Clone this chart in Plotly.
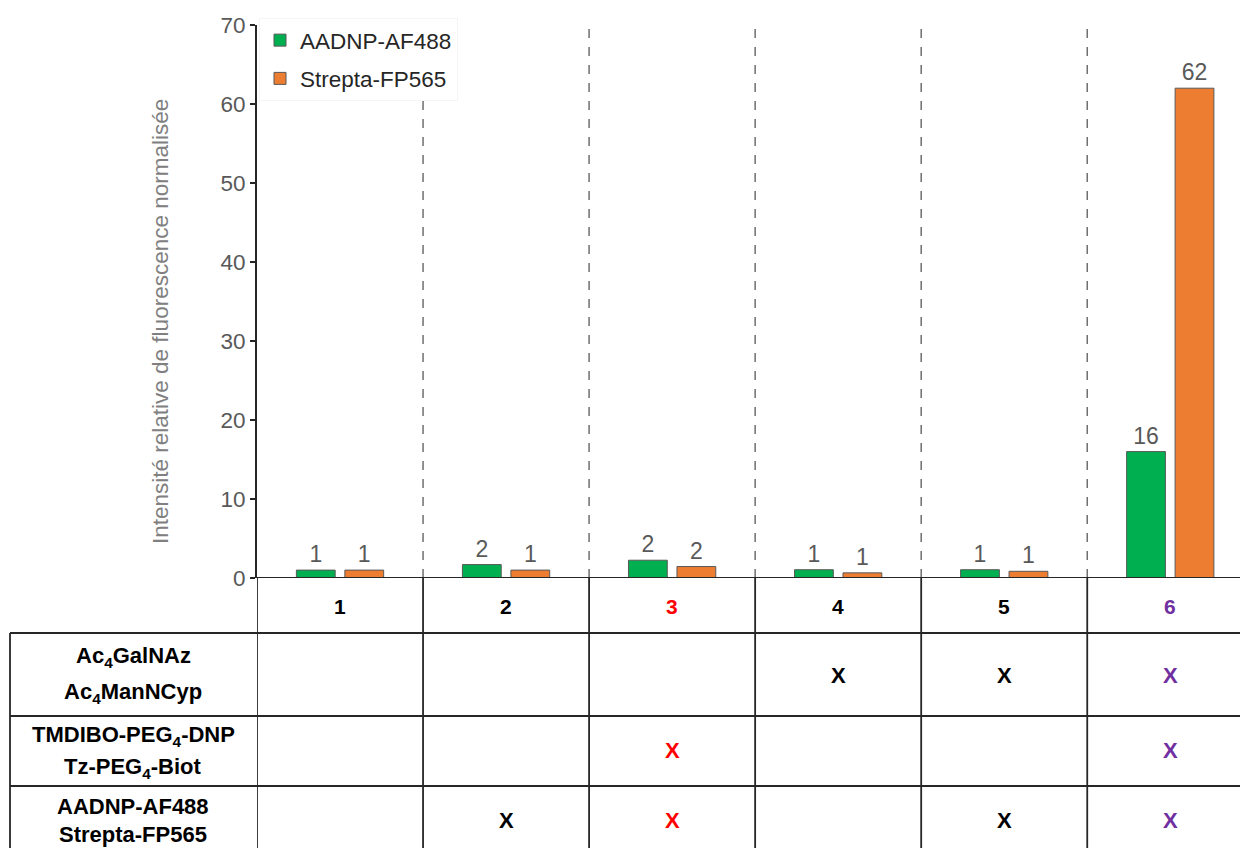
import plotly.graph_objects as go

# ---------------- data ----------------
categories = [1, 2, 3, 4, 5, 6]
cat_labels = ["1", "2", "3", "4", "5", "6"]
cat_colors = ["#000000", "#000000", "#FF0000", "#000000", "#000000", "#7030A0"]

series_names = ["AADNP-AF488", "Strepta-FP565"]
green_values = [1.0, 1.7, 2.25, 1.05, 1.05, 16.0]
orange_values = [1.0, 1.0, 1.45, 0.65, 0.85, 62.0]
green_labels = ["1", "2", "2", "1", "1", "16"]
orange_labels = ["1", "1", "2", "1", "1", "62"]

row_label_lines = [
    ["Ac<sub>4</sub>GalNAz", "Ac<sub>4</sub>ManNCyp"],
    ["TMDIBO-PEG<sub>4</sub>-DNP", "Tz-PEG<sub>4</sub>-Biot"],
    ["AADNP-AF488", "Strepta-FP565"],
]
# which conditions include each reagent row
row_marks = [
    [4, 5, 6],
    [3, 6],
    [2, 3, 5, 6],
]

y_title = "Intensité relative de fluorescence normalisée"
y_ticks = [0, 10, 20, 30, 40, 50, 60, 70]

# ---------------- styling ----------------
FONT = "Arial, Liberation Sans, sans-serif"
GREEN = "#00B050"
ORANGE = "#ED7D31"
GREY = "#595959"
W, H = 1240, 848
L, T, B = 257, 25, 270
plot_h = H - T - B  # 553


def py(px):
    """pixel y -> paper y"""
    return (H - B - px) / plot_h


def px_x(px):
    """pixel x -> paper x"""
    return (px - L) / (W - L)


fig = go.Figure()
fig.add_trace(go.Bar(
    x=categories, y=green_values, name=series_names[0],
    marker=dict(color=GREEN, line=dict(color=GREY, width=1)),
    text=green_labels, textposition="outside",
    textfont=dict(size=23, color=GREY, family=FONT),
    cliponaxis=False, legendgroup="a",
))
fig.add_trace(go.Bar(
    x=categories, y=orange_values, name=series_names[1],
    marker=dict(color=ORANGE, line=dict(color=GREY, width=1)),
    text=orange_labels, textposition="outside",
    textfont=dict(size=23, color=GREY, family=FONT),
    cliponaxis=False, legendgroup="b",
))

shapes = []
# dashed dividers inside the plot
for c in categories[:-1]:
    shapes.append(dict(type="line", xref="x", yref="y", x0=c + 0.5, x1=c + 0.5,
                       y0=0, y1=70, line=dict(color="#6F6F6F", width=1.5, dash="dash"),
                       layer="below"))
# table vertical lines
for c in categories:
    shapes.append(dict(type="line", xref="x", yref="paper", x0=c - 0.5, x1=c - 0.5,
                       y0=0, y1=py(H + 5), line=dict(color="#262626", width=1.8)))
# left border of label column
shapes.append(dict(type="line", xref="paper", yref="paper", x0=px_x(10), x1=px_x(10),
                   y0=py(633), y1=py(H + 5), line=dict(color="#262626", width=1.8)))
# table horizontal lines
for ypx in [633, 716, 786]:
    shapes.append(dict(type="line", xref="paper", yref="paper", x0=px_x(10), x1=1,
                       y0=py(ypx), y1=py(ypx), line=dict(color="#262626", width=1.8)))

annotations = []
# header row labels
for c, lab, col in zip(categories, cat_labels, cat_colors):
    annotations.append(dict(x=c, y=py(606), xref="x", yref="paper", text=f"<b>{lab}</b>",
                            xanchor="center", yanchor="middle",
                            showarrow=False, font=dict(size=21, color=col, family=FONT)))
# row labels
row_line_y = [[657, 693], [736, 768], [806, 834]]
for lines, ys in zip(row_label_lines, row_line_y):
    for txt, ypx in zip(lines, ys):
        annotations.append(dict(x=px_x(133), y=py(ypx), xref="paper", yref="paper",
                                xanchor="center", yanchor="middle",
                                text=f"<b>{txt}</b>", showarrow=False,
                                font=dict(size=22, color="#000000", family=FONT)))
# X marks
mark_y = [675, 750, 820]
for marks, ypx in zip(row_marks, mark_y):
    for c in marks:
        annotations.append(dict(x=c, y=py(ypx), xref="x", yref="paper", text="<b>X</b>",
                                xanchor="center", yanchor="middle",
                                showarrow=False,
                                font=dict(size=22, color=cat_colors[c - 1], family=FONT)))
# y-axis title
annotations.append(dict(x=px_x(160), y=py(322), xref="paper", yref="paper", text=y_title,
                        xanchor="center", yanchor="middle",
                        textangle=-90, showarrow=False,
                        font=dict(size=22.5, color="#808080", family=FONT)))

fig.update_layout(
    width=W, height=H,
    margin=dict(l=L, r=0, t=T, b=B, autoexpand=False),
    paper_bgcolor="white", plot_bgcolor="white",
    barmode="group", bargap=0.416, bargroupgap=0.2,
    font=dict(family=FONT),
    showlegend=True,
    legend=dict(x=px_x(259), y=py(18), xanchor="left", yanchor="top",
                bgcolor="white", bordercolor="#F5F5F5", borderwidth=1,
                font=dict(size=22.5, color="#262626", family=FONT),
                traceorder="grouped", tracegroupgap=6),
    xaxis=dict(range=[0.5, 6.42], showticklabels=False, ticks="", showgrid=False,
               zeroline=False, showline=False, fixedrange=True),
    yaxis=dict(range=[0, 70], tickvals=y_ticks, ticks="outside", ticklen=5,
               tickcolor="#262626", tickwidth=1.5, showline=True, linecolor="#262626",
               linewidth=1.8, showgrid=False, zeroline=False,
               tickfont=dict(size=22.5, color=GREY, family=FONT)),
    shapes=shapes,
    annotations=annotations,
)
# x axis baseline (extends slightly left like a tick)
fig.add_shape(type="line", xref="paper", yref="y", x0=px_x(252), x1=1, y0=0, y1=0,
              line=dict(color="#262626", width=1.8))

fig.write_html("out.html", config={"displayModeBar": False},
               post_script="document.body.style.margin='0px';")
